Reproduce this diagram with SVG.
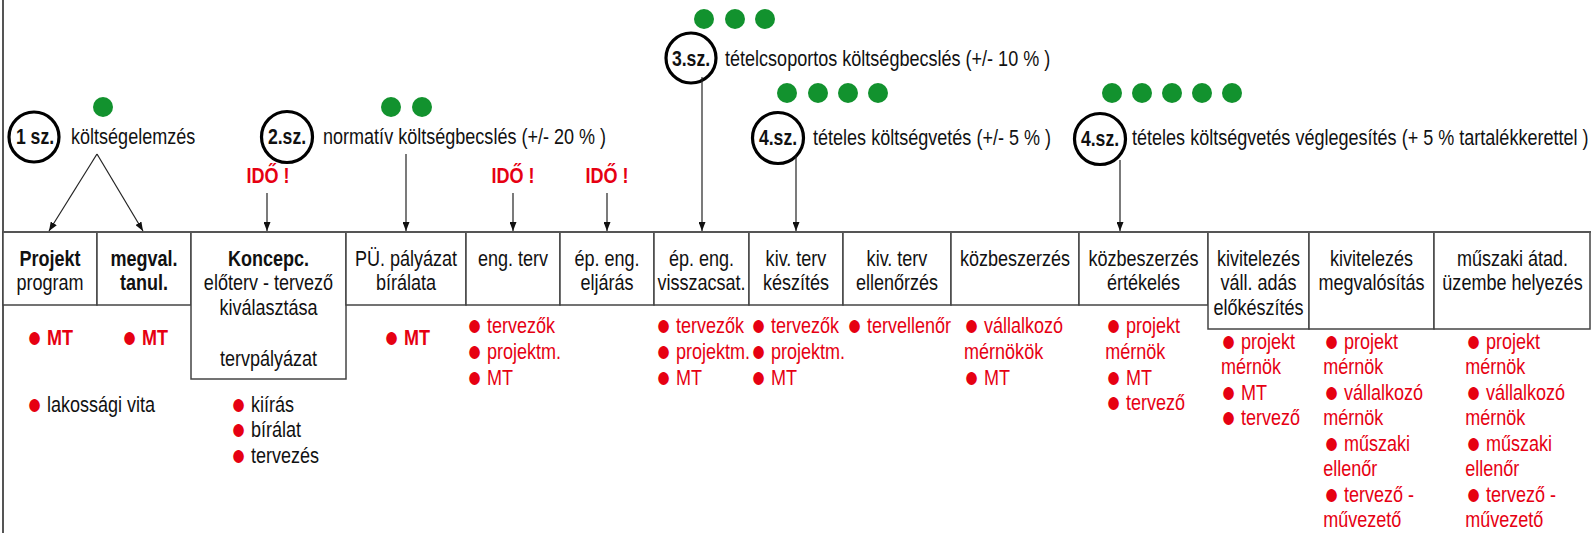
<svg xmlns="http://www.w3.org/2000/svg" width="1591" height="533" viewBox="0 0 1591 533">
<defs>
<style>
.t{font-family:"Liberation Sans",Arial,sans-serif;font-size:22px;fill:#111}
.c{text-anchor:middle}
.b{font-weight:bold}
.r{fill:#e60012}
.bl{fill:#e60012;font-size:30px;font-weight:normal}
.cell{fill:#fff;stroke:#444;stroke-width:1.5}
.circ{fill:none;stroke:#000;stroke-width:3.2}
.dot{fill:#12922e}
.arr{stroke:#222;stroke-width:1.2;fill:none;marker-end:url(#ah)}
</style>
<marker id="ah" markerUnits="userSpaceOnUse" markerWidth="9" markerHeight="7" refX="9" refY="3.5" orient="auto"><path d="M0,0 L9,3.5 L0,7 z" fill="#111"/></marker>
</defs>
<rect x="0" y="0" width="1591" height="533" fill="#fff"/>
<line x1="3" y1="0" x2="3" y2="533" stroke="#555" stroke-width="2"/>

<g id="estimates">
<g id="est1">
<circle class="dot" cx="103" cy="107" r="10"/>
<circle class="circ" cx="34" cy="137" r="25"/>
<text class="t c b" transform="matrix(.8 0 0 1 35 144)">1 sz.</text>
<text class="t" transform="matrix(.82 0 0 1 71 144)">költségelemzés</text>
</g>
<g id="est2">
<circle class="dot" cx="391" cy="107" r="10"/>
<circle class="dot" cx="422" cy="107" r="10"/>
<circle class="circ" cx="287" cy="137" r="25.5"/>
<text class="t c b" transform="matrix(.8 0 0 1 287 144)">2.sz.</text>
<text class="t" transform="matrix(.82 0 0 1 323 144)">normatív költségbecslés (+/- 20 % )</text>
</g>
<g id="est3">
<circle class="dot" cx="704" cy="19" r="10"/>
<circle class="dot" cx="735" cy="19" r="10"/>
<circle class="dot" cx="765" cy="19" r="10"/>
<circle class="circ" cx="691" cy="58" r="25"/>
<text class="t c b" transform="matrix(.8 0 0 1 691 66)">3.sz.</text>
<text class="t" transform="matrix(.82 0 0 1 725 66)">tételcsoportos költségbecslés (+/- 10 % )</text>
</g>
<g id="est4a">
<circle class="dot" cx="787" cy="93" r="10"/>
<circle class="dot" cx="818" cy="93" r="10"/>
<circle class="dot" cx="848" cy="93" r="10"/>
<circle class="dot" cx="878" cy="93" r="10"/>
<circle class="circ" cx="778" cy="138" r="25.5"/>
<text class="t c b" transform="matrix(.8 0 0 1 778 145)">4.sz.</text>
<text class="t" transform="matrix(.82 0 0 1 813 145)">tételes költségvetés (+/- 5 % )</text>
</g>
<g id="est4b">
<circle class="dot" cx="1112" cy="93" r="10"/>
<circle class="dot" cx="1142" cy="93" r="10"/>
<circle class="dot" cx="1172" cy="93" r="10"/>
<circle class="dot" cx="1202" cy="93" r="10"/>
<circle class="dot" cx="1232" cy="93" r="10"/>
<circle class="circ" cx="1100" cy="139" r="25.5"/>
<text class="t c b" transform="matrix(.8 0 0 1 1100 146)">4.sz.</text>
<text class="t" transform="matrix(.82 0 0 1 1132 145)">tételes költségvetés véglegesítés (+ 5 % tartalékkerettel )</text>
</g>
<g id="ido">
<text class="t c b r" transform="matrix(.82 0 0 1 268 183)">IDŐ !</text>
<text class="t c b r" transform="matrix(.82 0 0 1 513 183)">IDŐ !</text>
<text class="t c b r" transform="matrix(.82 0 0 1 607 183)">IDŐ !</text>
</g>
</g>

<g id="steps">
<g id="s1">
<rect class="cell" x="3" y="232" width="94" height="73"/>
<text class="t c" transform="matrix(.82 0 0 1 50 266)"><tspan x="0" class="b">Projekt</tspan><tspan x="0" dy="24.5">program</tspan></text>
<text class="t b r" transform="matrix(.82 0 0 1 27 345)"><tspan class="bl" dy="2">●</tspan><tspan dy="-2"> MT</tspan></text>
<text class="t" transform="matrix(.82 0 0 1 27 412)"><tspan class="bl" dy="2">●</tspan><tspan dy="-2"> lakossági vita</tspan></text>
</g>
<g id="s2">
<rect class="cell" x="97" y="232" width="94" height="73"/>
<text class="t c b" transform="matrix(.82 0 0 1 144 266)"><tspan x="0">megval.</tspan><tspan x="0" dy="24.5">tanul.</tspan></text>
<text class="t b r" transform="matrix(.82 0 0 1 122 345)"><tspan class="bl" dy="2">●</tspan><tspan dy="-2"> MT</tspan></text>
</g>
<g id="s3">
<rect class="cell" x="191" y="232" width="155" height="147"/>
<text class="t c" transform="matrix(.82 0 0 1 268.5 266)"><tspan x="0" class="b">Koncepc.</tspan><tspan x="0" dy="24.5">előterv - tervező</tspan><tspan x="0" dy="24.5">kiválasztása</tspan><tspan x="0" dy="51">tervpályázat</tspan></text>
<text class="t" transform="matrix(.82 0 0 1 231 412)"><tspan x="0" class="bl" dy="2">●</tspan><tspan dy="-2"> kiírás</tspan><tspan x="0" class="bl" dy="27.5">●</tspan><tspan dy="-2"> bírálat</tspan><tspan x="0" class="bl" dy="27.5">●</tspan><tspan dy="-2"> tervezés</tspan></text>
</g>
<g id="s4">
<rect class="cell" x="346" y="232" width="120" height="73"/>
<text class="t c" transform="matrix(.82 0 0 1 406 266)"><tspan x="0">PÜ. pályázat</tspan><tspan x="0" dy="24.5">bírálata</tspan></text>
<text class="t b r" transform="matrix(.82 0 0 1 384 345)"><tspan class="bl" dy="2">●</tspan><tspan dy="-2"> MT</tspan></text>
</g>
<g id="s5">
<rect class="cell" x="466" y="232" width="94" height="73"/>
<text class="t c" transform="matrix(.82 0 0 1 513 266)">eng. terv</text>
<text class="t r" transform="matrix(.82 0 0 1 467 333)"><tspan x="0" class="bl" dy="2">●</tspan><tspan dy="-2"> tervezők</tspan><tspan x="0" class="bl" dy="28">●</tspan><tspan dy="-2"> projektm.</tspan><tspan x="0" class="bl" dy="28">●</tspan><tspan dy="-2"> MT</tspan></text>
</g>
<g id="s6">
<rect class="cell" x="560" y="232" width="94" height="73"/>
<text class="t c" transform="matrix(.82 0 0 1 607 266)"><tspan x="0">ép. eng.</tspan><tspan x="0" dy="24.5">eljárás</tspan></text>
</g>
<g id="s7">
<rect class="cell" x="654" y="232" width="95" height="73"/>
<text class="t c" transform="matrix(.82 0 0 1 701.5 266)"><tspan x="0">ép. eng.</tspan><tspan x="0" dy="24.5">visszacsat.</tspan></text>
<text class="t r" transform="matrix(.82 0 0 1 656 333)"><tspan x="0" class="bl" dy="2">●</tspan><tspan dy="-2"> tervezők</tspan><tspan x="0" class="bl" dy="28">●</tspan><tspan dy="-2"> projektm.</tspan><tspan x="0" class="bl" dy="28">●</tspan><tspan dy="-2"> MT</tspan></text>
</g>
<g id="s8">
<rect class="cell" x="749" y="232" width="94" height="73"/>
<text class="t c" transform="matrix(.82 0 0 1 796 266)"><tspan x="0">kiv. terv</tspan><tspan x="0" dy="24.5">készítés</tspan></text>
<text class="t r" transform="matrix(.82 0 0 1 751 333)"><tspan x="0" class="bl" dy="2">●</tspan><tspan dy="-2"> tervezők</tspan><tspan x="0" class="bl" dy="28">●</tspan><tspan dy="-2"> projektm.</tspan><tspan x="0" class="bl" dy="28">●</tspan><tspan dy="-2"> MT</tspan></text>
</g>
<g id="s9">
<rect class="cell" x="843" y="232" width="108" height="73"/>
<text class="t c" transform="matrix(.82 0 0 1 897 266)"><tspan x="0">kiv. terv</tspan><tspan x="0" dy="24.5">ellenőrzés</tspan></text>
<text class="t r" transform="matrix(.82 0 0 1 847 333)"><tspan class="bl" dy="2">●</tspan><tspan dy="-2"> tervellenőr</tspan></text>
</g>
<g id="s10">
<rect class="cell" x="951" y="232" width="128" height="73"/>
<text class="t c" transform="matrix(.82 0 0 1 1015 266)">közbeszerzés</text>
<text class="t r" transform="matrix(.82 0 0 1 964 333)"><tspan x="0" class="bl" dy="2">●</tspan><tspan dy="-2"> vállalkozó</tspan><tspan x="0" dy="26">mérnökök</tspan><tspan x="0" class="bl" dy="28">●</tspan><tspan dy="-2"> MT</tspan></text>
</g>
<g id="s11">
<rect class="cell" x="1079" y="232" width="129" height="73"/>
<text class="t c" transform="matrix(.82 0 0 1 1143.5 266)"><tspan x="0">közbeszerzés</tspan><tspan x="0" dy="24.5">értékelés</tspan></text>
<text class="t r" transform="matrix(.82 0 0 1 1106 333)"><tspan x="0" class="bl" dy="2">●</tspan><tspan dy="-2"> projekt</tspan><tspan x="-1" dy="26">mérnök</tspan><tspan x="0" class="bl" dy="28">●</tspan><tspan dy="-2"> MT</tspan><tspan x="0" class="bl" dy="27.5">●</tspan><tspan dy="-2"> tervező</tspan></text>
</g>
<g id="s12">
<rect class="cell" x="1208" y="232" width="101" height="97"/>
<text class="t c" transform="matrix(.82 0 0 1 1258.5 266)"><tspan x="0">kivitelezés</tspan><tspan x="0" dy="24.5">váll. adás</tspan><tspan x="0" dy="24.5">előkészítés</tspan></text>
<text class="t r" transform="matrix(.82 0 0 1 1221 349)"><tspan x="0" class="bl" dy="2">●</tspan><tspan dy="-2"> projekt</tspan><tspan x="0" dy="25.5">mérnök</tspan><tspan x="0" class="bl" dy="27.5">●</tspan><tspan dy="-2"> MT</tspan><tspan x="0" class="bl" dy="27.5">●</tspan><tspan dy="-2"> tervező</tspan></text>
</g>
<g id="s13">
<rect class="cell" x="1309" y="232" width="125" height="97"/>
<text class="t c" transform="matrix(.82 0 0 1 1371.5 266)"><tspan x="0">kivitelezés</tspan><tspan x="0" dy="24.5">megvalósítás</tspan></text>
<text class="t r" transform="matrix(.82 0 0 1 1324 349)"><tspan x="0" class="bl" dy="2">●</tspan><tspan dy="-2"> projekt</tspan><tspan x="-1" dy="25.5">mérnök</tspan><tspan x="0" class="bl" dy="27.5">●</tspan><tspan dy="-2"> vállalkozó</tspan><tspan x="-1" dy="25.5">mérnök</tspan><tspan x="0" class="bl" dy="27.5">●</tspan><tspan dy="-2"> műszaki</tspan><tspan x="-1" dy="25.5">ellenőr</tspan><tspan x="0" class="bl" dy="27.5">●</tspan><tspan dy="-2"> tervező -</tspan><tspan x="-1" dy="25.5">művezető</tspan></text>
</g>
<g id="s14">
<rect class="cell" x="1434" y="232" width="156" height="97"/>
<text class="t c" transform="matrix(.82 0 0 1 1512.5 266)"><tspan x="0">műszaki átad.</tspan><tspan x="0" dy="24.5">üzembe helyezés</tspan></text>
<text class="t r" transform="matrix(.82 0 0 1 1466 349)"><tspan x="0" class="bl" dy="2">●</tspan><tspan dy="-2"> projekt</tspan><tspan x="-1" dy="25.5">mérnök</tspan><tspan x="0" class="bl" dy="27.5">●</tspan><tspan dy="-2"> vállalkozó</tspan><tspan x="-1" dy="25.5">mérnök</tspan><tspan x="0" class="bl" dy="27.5">●</tspan><tspan dy="-2"> műszaki</tspan><tspan x="-1" dy="25.5">ellenőr</tspan><tspan x="0" class="bl" dy="27.5">●</tspan><tspan dy="-2"> tervező -</tspan><tspan x="-1" dy="25.5">művezető</tspan></text>
</g>
<line x1="3" y1="232" x2="1591" y2="232" stroke="#555" stroke-width="2"/>
</g>

<g id="connectors">
<line class="arr" x1="97" y1="154" x2="49" y2="231"/>
<line class="arr" x1="97" y1="154" x2="143" y2="231"/>
<line class="arr" x1="267" y1="193" x2="267" y2="231"/>
<line class="arr" x1="406" y1="154" x2="406" y2="231"/>
<line class="arr" x1="513" y1="193" x2="513" y2="231"/>
<line class="arr" x1="607" y1="193" x2="607" y2="231"/>
<line class="arr" x1="702" y1="77" x2="702" y2="231"/>
<line class="arr" x1="796" y1="156" x2="796" y2="231"/>
<line class="arr" x1="1120" y1="160" x2="1120" y2="231"/>
</g>
</svg>
